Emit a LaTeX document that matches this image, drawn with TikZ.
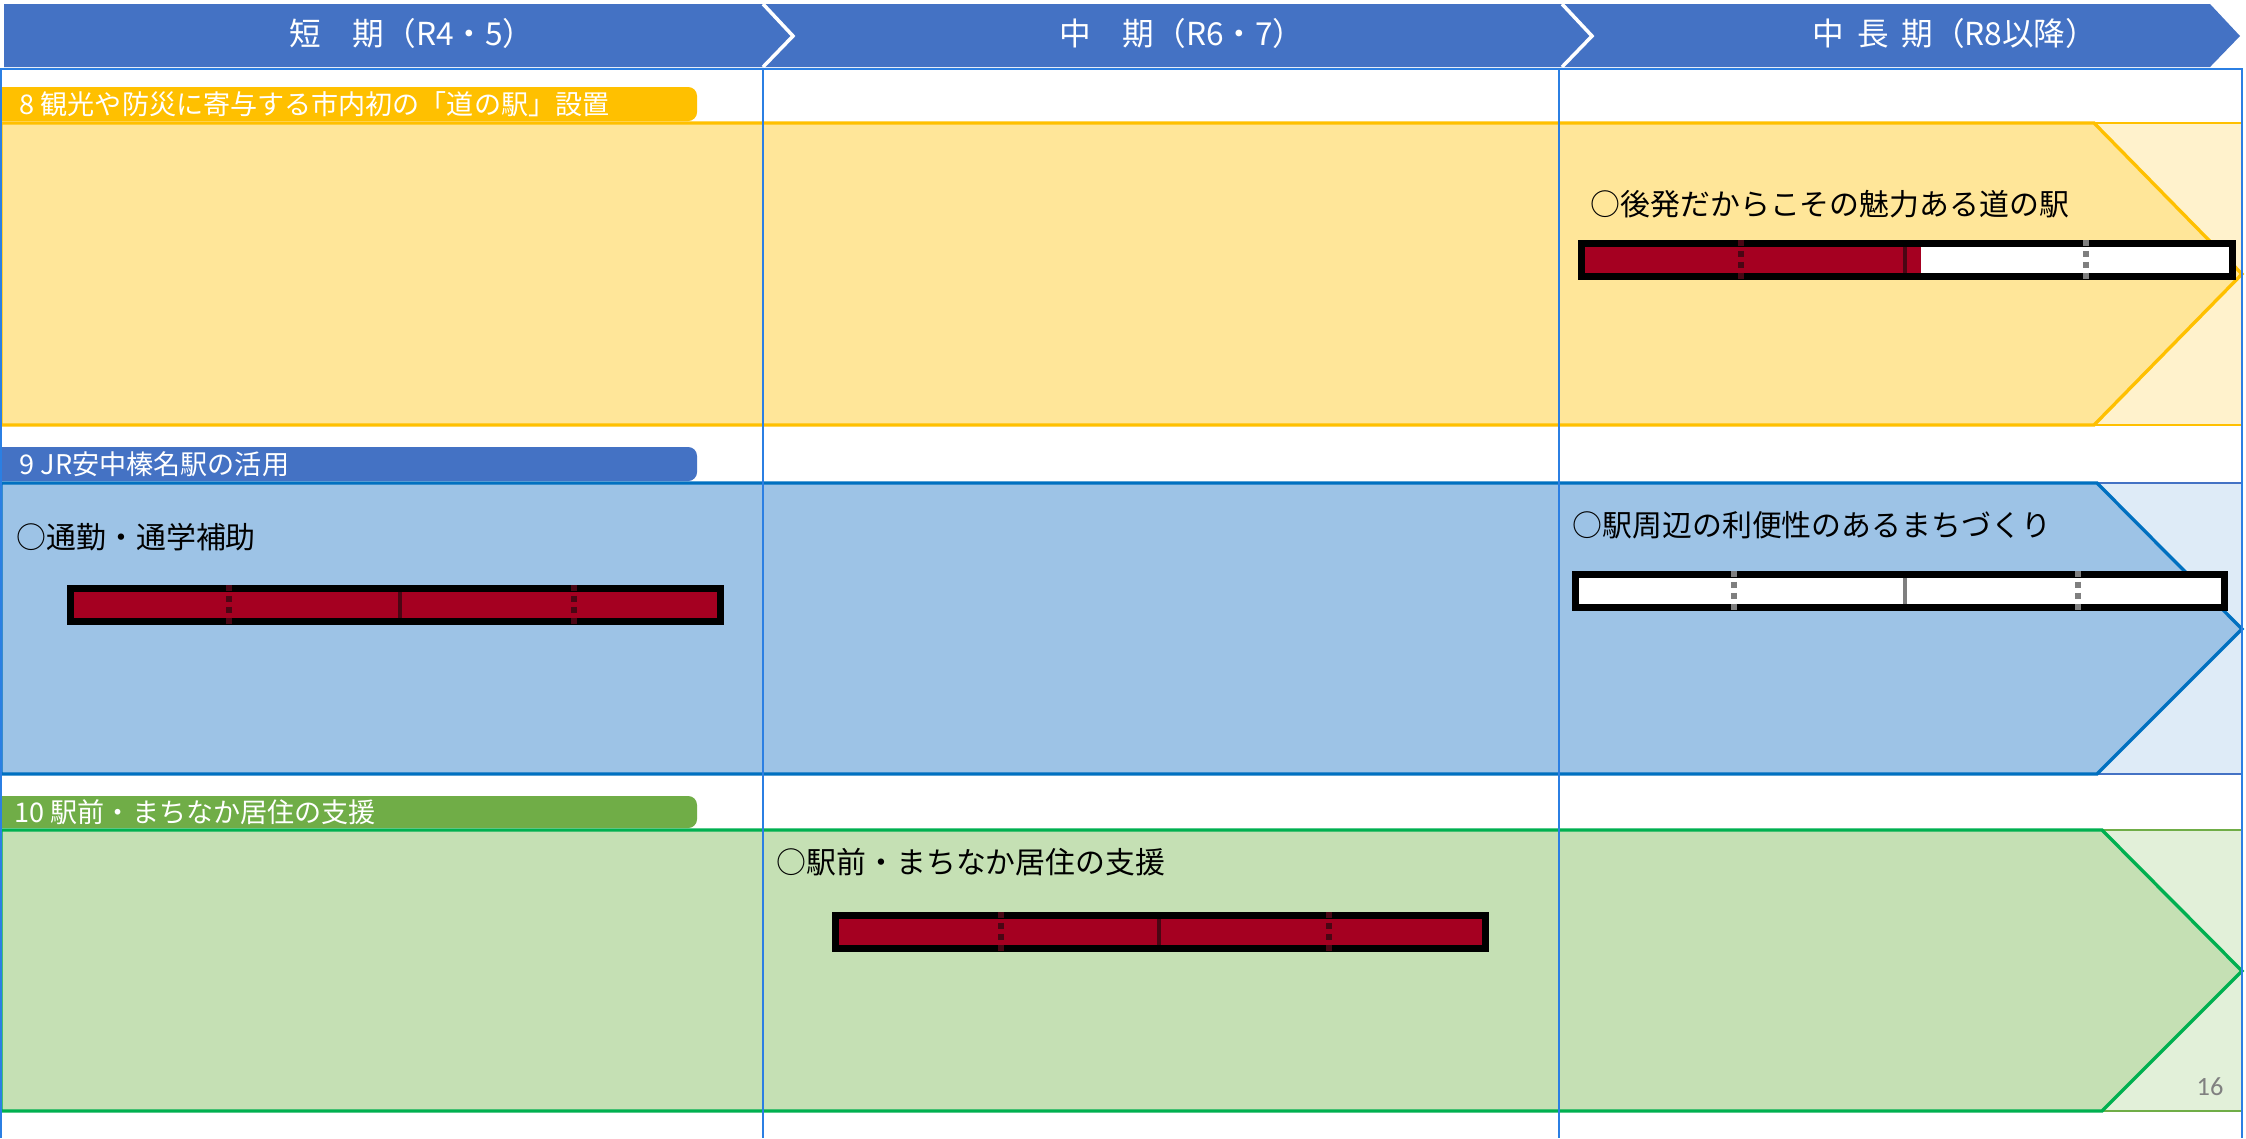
\documentclass[tikz,border=0pt]{standalone}
\usepackage{fontspec}
\setmainfont{Noto Sans CJK JP}
\newfontfamily\numfont{Carlito}
\definecolor{hdrblue}{HTML}{4472C4}
\definecolor{gridblue}{HTML}{2B7FE3}
\definecolor{ytag}{HTML}{FFC000}
\definecolor{yfill}{HTML}{FFE699}
\definecolor{yghost}{HTML}{FFF2CC}
\definecolor{btag}{HTML}{4472C4}
\definecolor{bfill}{HTML}{9DC3E6}
\definecolor{bghost}{HTML}{DEEBF7}
\definecolor{bline}{HTML}{0070C0}
\definecolor{gtag}{HTML}{70AD47}
\definecolor{gfill}{HTML}{C5E0B4}
\definecolor{gghost}{HTML}{E2F0D9}
\definecolor{gline}{HTML}{00B050}
\definecolor{barred}{HTML}{A50021}
\definecolor{tickred}{HTML}{4A0614}
\definecolor{tickgray}{HTML}{7F7F7F}

\begin{document}
\begin{tikzpicture}[x=0.01cm,y=-0.01cm,hdr/.style={text=white,inner sep=0pt,font=\fontsize{9}{9}\selectfont},tagtext/.style={anchor=west,inner sep=0pt,text=white,font=\fontsize{7.7}{7.7}\selectfont},itemtext/.style={anchor=west,inner sep=0pt,font=\fontsize{8.5}{8.5}\selectfont},bandline/.style={line width=0.95pt},ghostline/.style={line width=0.45pt},gridline/.style={draw=gridblue,line width=0.6pt},tickdash/.style={line width=1.7pt,dash pattern=on 1.8pt off 1.3pt},ticksolid/.style={line width=1pt}]
\fill[white] (0,0) rectangle (2246,1138);\useasboundingbox (0,0) rectangle (2246,1138);
% header
\fill[hdrblue] (4,4) -- (2210,4) -- (2240,36) -- (2210,67) -- (4,67) -- cycle;
\draw[white,line width=1pt] (763,4) -- (793,36) -- (763,67);\draw[white,line width=1pt] (1562,4) -- (1592,36) -- (1562,67);
\node[hdr] (hd1) at (412,33){短　期（R4・5）};\node[hdr] (hd2) at (1182,33){中　期（R6・7）};\node[hdr] (hd3) at (1955,33){中\hspace{0.4em}長\hspace{0.4em}期（R8以降）};
% row 8
\filldraw[fill=yghost,draw=ytag,ghostline] (1,123) rectangle (2242,425);
\filldraw[fill=yfill,draw=ytag,bandline] (1,123) -- (2094,123) -- (2242,274) -- (2094,425) -- (1,425) -- cycle;
\fill[ytag,rounded corners=2.5pt] (-20,87) rectangle (697,121);
\node[tagtext] (tag8) at (19,104){8 観光や防災に寄与する市内初の「道の駅」設置};
% row 9
\filldraw[fill=bghost,draw=btag,ghostline] (1,483) rectangle (2242,774);
\filldraw[fill=bfill,draw=bline,bandline] (1,483) -- (2097,483) -- (2242,629) -- (2097,774) -- (1,774) -- cycle;
\fill[btag,rounded corners=2.5pt] (-20,447) rectangle (697,481);
\node[tagtext] (tag9) at (19,464){9 JR安中榛名駅の活用};
% row 10
\filldraw[fill=gghost,draw=gtag,ghostline] (1,830) rectangle (2242,1111);
\filldraw[fill=gfill,draw=gline,bandline] (1,830) -- (2102,830) -- (2242,971) -- (2102,1111) -- (1,1111) -- cycle;
\fill[gtag,rounded corners=2.5pt] (-20,796) rectangle (697,828);
\node[tagtext] (tag10) at (14,812){10 駅前・まちなか居住の支援};
% table frame
\draw[gridline] (1,1138) -- (1,69) -- (2242,69) -- (2242,1138);\draw[gridline] (763,69) -- (763,1138);\draw[gridline] (1559,69) -- (1559,1138);
% items
\node[itemtext] (it8) at (1590,204){○後発だからこその魅力ある道の駅};
\node[itemtext] (it9a) at (16,537){○通勤・通学補助};
\node[itemtext] (it9b) at (1572,525){○駅周辺の利便性のあるまちづくり};
\node[itemtext] (it10) at (776,862){○駅前・まちなか居住の支援};
% bars
\fill (1578,240) rectangle (2236,280);\fill[barred] (1585,247) rectangle (1921,273);\fill[white] (1921,247) rectangle (2229,273);
\draw[tickdash,tickred] (1741,240) -- (1741,283);\draw[ticksolid,tickred] (1905,247) -- (1905,273);\draw[tickdash,tickgray] (2086,240) -- (2086,283);
\fill (67,585) rectangle (724,625);\fill[barred] (74,592) rectangle (717,618);
\draw[tickdash,tickred] (229,585) -- (229,628);\draw[ticksolid,tickred] (400,592) -- (400,618);\draw[tickdash,tickred] (574,585) -- (574,628);
\fill (1572,571) rectangle (2228,611);\fill[white] (1579,578) rectangle (2221,604);
\draw[tickdash,tickgray] (1734,571) -- (1734,614);\draw[ticksolid,tickgray] (1905,578) -- (1905,604);\draw[tickdash,tickgray] (2078,571) -- (2078,614);
\fill (832,912) rectangle (1489,952);\fill[barred] (839,919) rectangle (1482,945);
\draw[tickdash,tickred] (1001,912) -- (1001,955);\draw[ticksolid,tickred] (1159,919) -- (1159,945);\draw[tickdash,tickred] (1329,912) -- (1329,955);
\node[text=gray,font=\numfont\fontsize{7.5}{7.5}\selectfont] (pg) at (2210,1087){16};
\end{tikzpicture}
\end{document}
